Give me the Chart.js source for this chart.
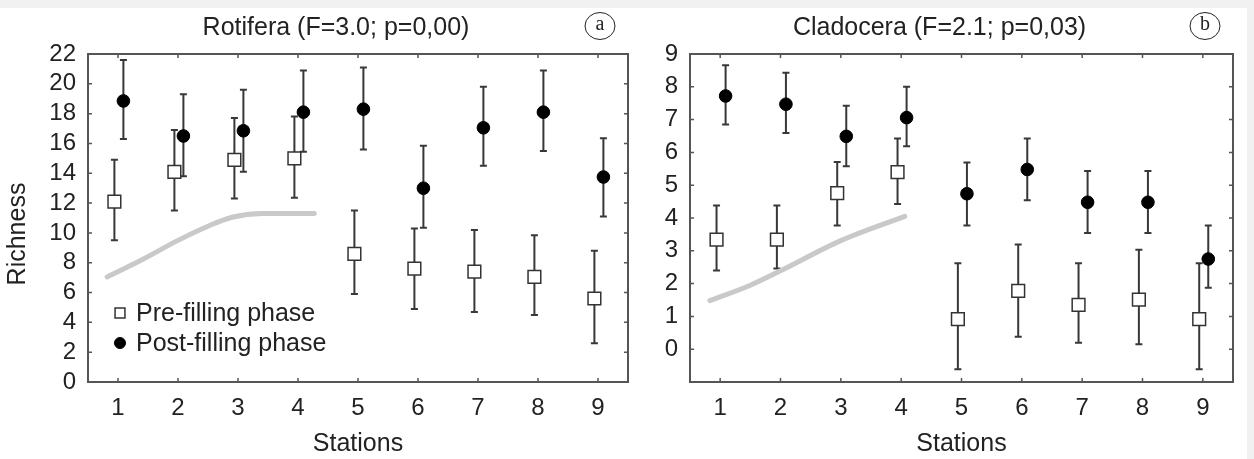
<!DOCTYPE html>
<html>
<head>
<meta charset="utf-8">
<title>Richness by station</title>
<script src="https://cdn.jsdelivr.net/npm/chart.js@4.4.1/dist/chart.umd.min.js"></script>
<style>
  html, body { margin: 0; padding: 0; background: #f1f1f1; overflow: hidden; }
  #figure { position: absolute; left: 0; top: 8px; width: 1247px; height: 451px; background: #fff; }
  .panel { position: absolute; top: 0; height: 451px; }
  #panelA { left: 0; width: 640px; }
  #panelB { left: 640px; width: 607px; }
</style>
</head>
<body>
<div id="figure">
  <div class="panel" id="panelA"><canvas id="rotiferaChart" width="640" height="451"></canvas></div>
  <div class="panel" id="panelB"><canvas id="cladoceraChart" width="607" height="451"></canvas></div>
</div>
<script>
(function () {
  'use strict';

  var stations = [1, 2, 3, 4, 5, 6, 7, 8, 9];
  var rotiferaTicks = [0, 2, 4, 6, 8, 10, 12, 14, 16, 18, 20, 22];
  var cladoceraTicks = [0, 1, 2, 3, 4, 5, 6, 7, 8, 9];

  // Rotifera: media e limites das barras de erro
  var rotiferaPre = [12.1, 14.1, 14.9, 15.0, 8.6, 7.6, 7.4, 7.05, 5.6];
  var rotiferaPreLow = [9.5, 11.5, 12.3, 12.35, 5.9, 4.9, 4.7, 4.5, 2.6];
  var rotiferaPreHigh = [14.9, 16.9, 17.7, 17.8, 11.5, 10.3, 10.2, 9.85, 8.8];
  var rotiferaPost = [18.85, 16.5, 16.85, 18.1, 18.3, 13.0, 17.05, 18.1, 13.75];
  var rotiferaPostLow = [16.3, 13.8, 14.1, 15.45, 15.6, 10.35, 14.5, 15.5, 11.1];
  var rotiferaPostHigh = [21.6, 19.3, 19.6, 20.9, 21.1, 15.85, 19.8, 20.9, 16.35];
  var rotiferaCurveX = [0.82, 1.4, 2.0, 2.5, 2.9, 3.4, 4.27];
  var rotiferaCurveY = [7.05, 8.2, 9.5, 10.45, 11.05, 11.3, 11.3];

  // Cladocera
  var cladoceraPre = [3.34, 3.34, 4.76, 5.4, 0.92, 1.78, 1.35, 1.51, 0.92];
  var cladoceraPreLow = [2.4, 2.46, 3.77, 4.43, -0.61, 0.38, 0.2, 0.15, -0.61];
  var cladoceraPreHigh = [4.38, 4.38, 5.71, 6.42, 2.62, 3.19, 2.62, 3.03, 2.62];
  var cladoceraPost = [7.72, 7.47, 6.49, 7.06, 4.74, 5.48, 4.48, 4.48, 2.75];
  var cladoceraPostLow = [6.85, 6.59, 5.58, 6.19, 3.77, 4.54, 3.54, 3.54, 1.87];
  var cladoceraPostHigh = [8.66, 8.43, 7.42, 8.0, 5.69, 6.42, 5.43, 5.43, 3.77];
  var cladoceraCurveX = [0.83, 1.5, 2.0, 3.0, 4.06];
  var cladoceraCurveY = [1.48, 1.95, 2.39, 3.31, 4.05];

  var TEXT = '#222';
  var FRAME = '#555';
  var BAR = '#383838';
  var FONT = '"Liberation Sans", Arial, sans-serif';

  Chart.defaults.font.family = FONT;
  Chart.defaults.color = TEXT;

  function markers(values, dodge) {
    return stations.map(function (s, i) { return { x: s + dodge, y: values[i] }; });
  }

  function curve(xs, ys) {
    return xs.map(function (x, i) { return { x: x, y: ys[i] }; });
  }

  // barras de erro desenhadas antes dos marcadores, para ficarem por baixo
  var errorBars = {
    id: 'errorBars',
    beforeDatasetsDraw: function (chart) {
      var ctx = chart.ctx;
      var y = chart.scales.y;
      ctx.save();
      ctx.strokeStyle = BAR;
      ctx.lineWidth = 2;
      chart.data.datasets.forEach(function (ds, di) {
        if (!ds.errLow) return;
        chart.getDatasetMeta(di).data.forEach(function (pt, i) {
          var top = y.getPixelForValue(ds.errHigh[i]);
          var bottom = y.getPixelForValue(ds.errLow[i]);
          ctx.beginPath();
          ctx.moveTo(pt.x, top); ctx.lineTo(pt.x, bottom);
          ctx.moveTo(pt.x - 3.5, top); ctx.lineTo(pt.x + 3.5, top);
          ctx.moveTo(pt.x - 3.5, bottom); ctx.lineTo(pt.x + 3.5, bottom);
          ctx.stroke();
        });
      });
      ctx.restore();
    }
  };

  // moldura com marcas para dentro nos quatro lados
  var frame = {
    id: 'frame',
    afterDatasetsDraw: function (chart) {
      var ctx = chart.ctx;
      var a = chart.chartArea;
      var x = chart.scales.x;
      var y = chart.scales.y;
      ctx.save();
      ctx.strokeStyle = FRAME;
      ctx.lineWidth = 2;
      ctx.strokeRect(a.left, a.top, a.right - a.left, a.bottom - a.top);
      ctx.lineWidth = 1.5;
      ctx.beginPath();
      x.ticks.forEach(function (t) {
        var px = x.getPixelForValue(t.value);
        ctx.moveTo(px, a.bottom); ctx.lineTo(px, a.bottom - 4);
        ctx.moveTo(px, a.top); ctx.lineTo(px, a.top + 4);
      });
      y.ticks.forEach(function (t) {
        var py = y.getPixelForValue(t.value);
        ctx.moveTo(a.left, py); ctx.lineTo(a.left + 4, py);
        ctx.moveTo(a.right, py); ctx.lineTo(a.right - 4, py);
      });
      ctx.stroke();
      ctx.restore();
    }
  };

  var panelText = {
    id: 'panelText',
    afterDraw: function (chart, args, opts) {
      var ctx = chart.ctx;
      var a = chart.chartArea;
      ctx.save();
      ctx.fillStyle = TEXT;
      ctx.strokeStyle = TEXT;
      ctx.textAlign = 'center';
      ctx.textBaseline = 'middle';
      ctx.font = '25px ' + FONT;
      ctx.fillText(opts.title, (a.left + a.right) / 2 - 22, a.top - 26);

      ctx.lineWidth = 1;
      ctx.beginPath();
      ctx.ellipse(a.right - 28, a.top - 28, 15, 13.5, 0, 0, Math.PI * 2);
      ctx.stroke();
      ctx.font = '20px "Liberation Serif", serif';
      ctx.fillText(opts.letter, a.right - 28, a.top - 29);

      if (opts.yTitle) {
        ctx.font = '25px ' + FONT;
        ctx.translate(18, (a.top + a.bottom) / 2 + 16);
        ctx.rotate(-Math.PI / 2);
        ctx.fillText(opts.yTitle, 0, 0);
      }
      ctx.restore();
    }
  };

  var markerLegend = {
    id: 'markerLegend',
    afterDraw: function (chart, args, opts) {
      if (!opts.show) return;
      var ctx = chart.ctx;
      var a = chart.chartArea;
      var rows = chart.data.datasets.filter(function (ds) { return ds.errLow; });
      ctx.save();
      ctx.font = '25px ' + FONT;
      ctx.textAlign = 'left';
      ctx.textBaseline = 'middle';
      rows.forEach(function (ds, i) {
        var cy = a.bottom - 69 + i * 30;
        var cx = a.left + 32;
        ctx.fillStyle = ds.backgroundColor;
        ctx.strokeStyle = ds.borderColor;
        ctx.lineWidth = ds.borderWidth;
        Chart.helpers.drawPoint(ctx, {
          pointStyle: ds.pointStyle,
          radius: ds.pointStyle === 'rect' ? 7 : 5.5,
          borderWidth: ds.borderWidth,
          rotation: 0
        }, cx, cy);
        ctx.fillStyle = TEXT;
        ctx.fillText(ds.label, a.left + 48, cy + 1);
      });
      ctx.restore();
    }
  };

  function makePanel(canvas, p) {
    return new Chart(canvas, {
      type: 'scatter',
      plugins: [errorBars, frame, panelText, markerLegend],
      data: {
        datasets: [
          {
            label: 'Pre-filling phase',
            data: markers(p.pre, -0.06),
            errLow: p.preLow,
            errHigh: p.preHigh,
            pointStyle: 'rect',
            pointRadius: 9,
            backgroundColor: '#fff',
            borderColor: '#333',
            borderWidth: 1.5
          },
          {
            label: 'Post-filling phase',
            data: markers(p.post, 0.09),
            errLow: p.postLow,
            errHigh: p.postHigh,
            pointStyle: 'circle',
            pointRadius: 6.3,
            backgroundColor: '#000',
            borderColor: '#000',
            borderWidth: 1
          },
          {
            label: 'trend',
            data: curve(p.curveX, p.curveY),
            showLine: true,
            cubicInterpolationMode: 'monotone',
            borderColor: '#c9c9c9',
            borderWidth: 5,
            borderCapStyle: 'round',
            pointRadius: 0,
            order: 1
          }
        ]
      },
      options: {
        responsive: false,
        animation: false,
        devicePixelRatio: 1,
        layout: { padding: { top: 46, right: p.rightPad, left: 0, bottom: 0 } },
        plugins: {
          legend: { display: false },
          tooltip: { enabled: false },
          panelText: { title: p.title, letter: p.letter, yTitle: p.yTitle },
          markerLegend: { show: p.legend }
        },
        scales: {
          x: {
            type: 'linear',
            min: 0.5,
            max: 9.5,
            afterBuildTicks: function (scale) {
              scale.ticks = stations.map(function (v) { return { value: v }; });
            },
            afterFit: function (scale) { scale.height = 77; },
            grid: { display: false, drawTicks: false },
            border: { display: false },
            ticks: { padding: 12, autoSkip: false, maxRotation: 0, color: TEXT, font: { size: 24 } },
            title: { display: true, text: 'Stations', color: TEXT, font: { size: 25 }, padding: { top: 0, bottom: 0 } }
          },
          y: {
            type: 'linear',
            min: p.yMin,
            max: p.yMax,
            afterBuildTicks: function (scale) {
              scale.ticks = p.yTicks.map(function (v) { return { value: v }; });
            },
            afterFit: function (scale) { scale.width = p.axisWidth; },
            grid: { display: false, drawTicks: false },
            border: { display: false },
            ticks: { padding: 12, autoSkip: false, color: TEXT, font: { size: 24 } }
          }
        }
      }
    });
  }

  makePanel(document.getElementById('rotiferaChart'), {
    title: 'Rotifera (F=3.0; p=0,00)',
    letter: 'a',
    yTitle: 'Richness',
    legend: true,
    pre: rotiferaPre, preLow: rotiferaPreLow, preHigh: rotiferaPreHigh,
    post: rotiferaPost, postLow: rotiferaPostLow, postHigh: rotiferaPostHigh,
    curveX: rotiferaCurveX, curveY: rotiferaCurveY,
    yMin: 0, yMax: 22, yTicks: rotiferaTicks,
    axisWidth: 88, rightPad: 12
  });

  makePanel(document.getElementById('cladoceraChart'), {
    title: 'Cladocera (F=2.1; p=0,03)',
    letter: 'b',
    yTitle: null,
    legend: false,
    pre: cladoceraPre, preLow: cladoceraPreLow, preHigh: cladoceraPreHigh,
    post: cladoceraPost, postLow: cladoceraPostLow, postHigh: cladoceraPostHigh,
    curveX: cladoceraCurveX, curveY: cladoceraCurveY,
    yMin: -1, yMax: 9, yTicks: cladoceraTicks,
    axisWidth: 50, rightPad: 14
  });
})();
</script>
</body>
</html>
